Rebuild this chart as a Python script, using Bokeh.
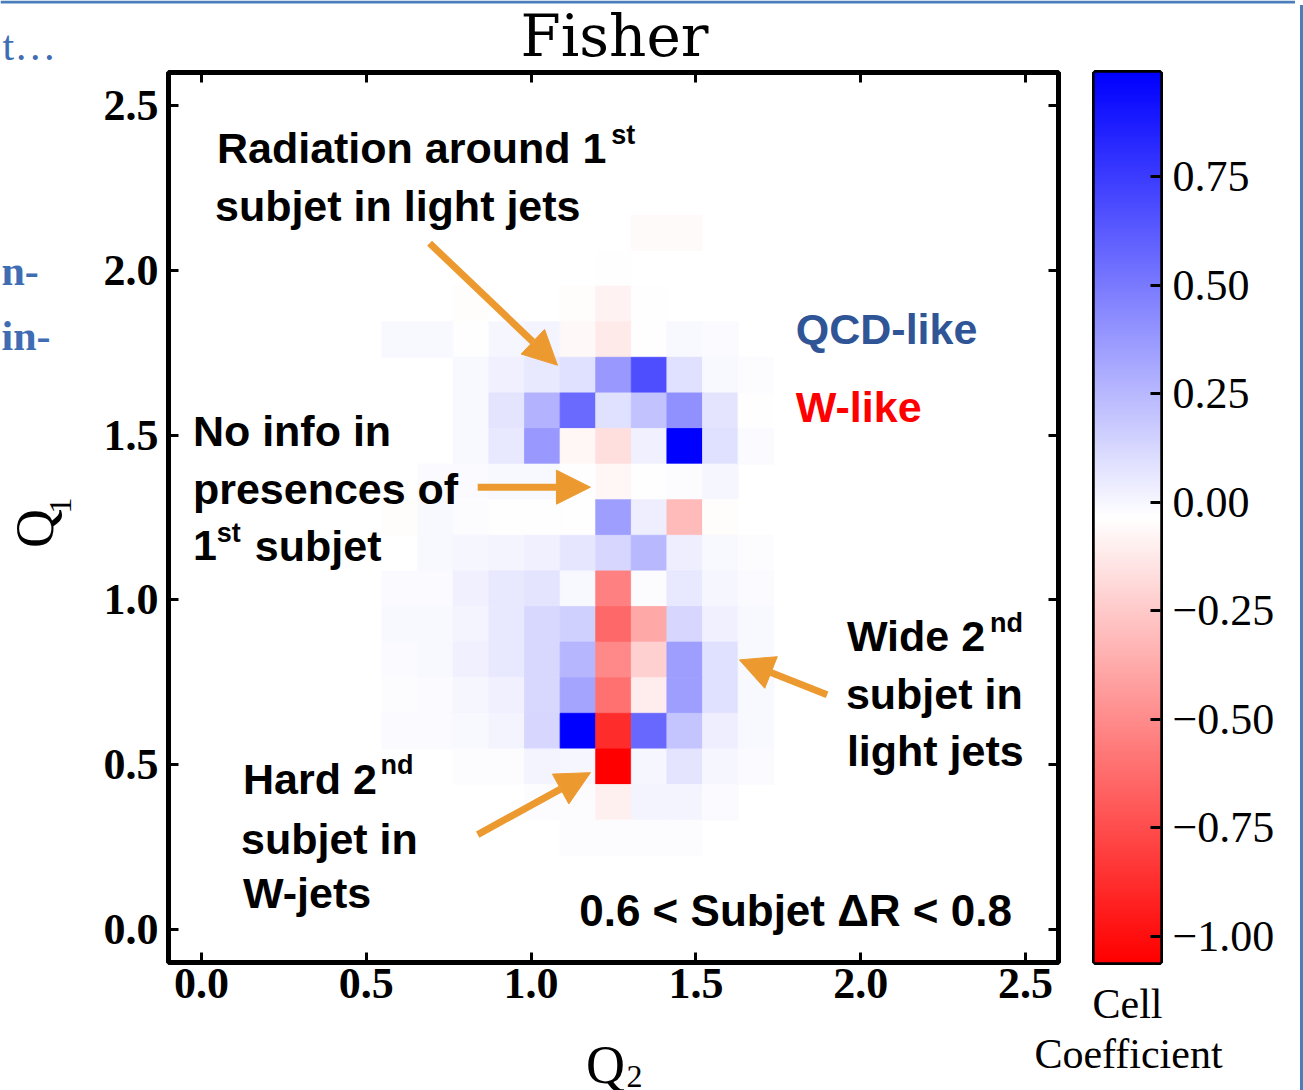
import numpy as np
from bokeh.plotting import figure
from bokeh.models import (Range1d, LinearAxis, FixedTicker, Label, Arrow, NormalHead, Div, Span,
                          LinearColorMapper, CustomJSTickFormatter, ColumnDataSource)
from bokeh.layouts import row, column
from bokeh.embed import file_html
from bokeh.resources import INLINE

# ---------------------------------------------------------------------------
# Binning of the two subjet-charge axes (25 x 25 cells on [-0.1, 2.6])
Q_MIN, Q_MAX, N_BINS = -0.1, 2.6, 25
BIN_W = (Q_MAX - Q_MIN) / N_BINS

# Range of the colour scale (Fisher cell coefficients)
COEF_LOW, COEF_HIGH = -1.06, 0.99

# Column (Q2) and row (Q1) bin indices of the populated region
q2_bins = [6, 7, 8, 9, 10, 11, 12, 13, 14, 15, 16]
q1_bins = [20, 19, 18, 17, 16, 15, 14, 13, 12, 11, 10, 9, 8, 7, 6, 5, 4, 3]

N = None
# Fisher coefficient per cell, one row per Q1 bin (top to bottom), columns follow q2_bins
coefficients = [
    [N,      N,      N,      N,      N,      N,      N,      -0.055, -0.055, N,      N],
    [N,      N,      N,      N,      N,      N,      -0.04,  N,      N,      N,      N],
    [N,      N,      -0.045, N,      N,      -0.05,  -0.09,  -0.035, N,      N,      N],
    [-0.007, -0.007, -0.035, 0.0,    0.01,   -0.06,  -0.12,  -0.035, -0.005, -0.015, N],
    [N,      N,      -0.01,  0.025,  0.06,   0.09,   0.375,  0.67,   0.09,   -0.01,  -0.02],
    [N,      N,      -0.005, 0.07,   0.27,   0.56,   0.09,   0.21,   0.41,   0.07,   -0.035],
    [N,      N,      -0.005, 0.06,   0.375,  -0.075, -0.17,  0.025,  0.99,   0.09,   -0.015],
    [N,      -0.015, -0.015, -0.01,  -0.01,  -0.035, -0.075, -0.035, -0.02,  0.005,  N],
    [-0.05,  -0.005, -0.02,  -0.035, -0.035, -0.035, 0.35,   0.03,   -0.31,  -0.045, N],
    [N,      -0.005, 0.005,  0.013,  0.025,  0.065,  0.13,   0.25,   0.03,   -0.005, -0.02],
    [-0.015, -0.015, 0.025,  0.06,   0.075,  -0.005, -0.545, -0.02,  0.06,   0.005,  -0.015],
    [-0.01,  -0.005, 0.013,  0.06,   0.12,   0.15,   -0.64,  -0.38,  0.13,   0.025,  -0.005],
    [-0.015, -0.005, 0.025,  0.06,   0.12,   0.26,   -0.51,  -0.22,  0.35,   0.09,   -0.005],
    [-0.02,  -0.015, 0.005,  0.025,  0.12,   0.33,   -0.61,  -0.115, 0.35,   0.09,   -0.005],
    [-0.015, -0.015, -0.005, 0.013,  0.13,   0.99,   -0.88,  0.57,   0.2,    0.03,   -0.005],
    [N,      N,      -0.02,  -0.02,  0.013,  0.005,  -1.06,  0.005,  0.07,   0.005,  -0.015],
    [N,      N,      N,      N,      -0.02,  -0.02,  -0.095, 0.013,  0.013,  -0.015, N],
    [N,      N,      N,      N,      N,      -0.02,  -0.02,  -0.02,  -0.02,  N,      N],
]

axis_ticks = [0.0, 0.5, 1.0, 1.5, 2.0, 2.5]
colorbar_ticks = [-1.0, -0.75, -0.5, -0.25, 0.0, 0.25, 0.5, 0.75]

# ---------------------------------------------------------------------------
ORANGE = "#EC9A2F"
SLIDE_BLUE = "#3F6DB3"
FRAME_BLUE = "#4A7EBB"
SERIF = "Liberation Serif"
SANS = "Liberation Sans"

PAGE_W, PAGE_H = 1303, 1090
EDGE_W = 8                  # slide frame strip at the right edge
INNER_W = PAGE_W - EDGE_W
TOP_H = 69                  # title strip
FRAME_TOP, FRAME_BOTTOM = 72, 962   # page rows of the plot frames
BOTTOM_Y = 1022             # page row where the bottom text strip starts
LEFT_W = 90                 # strip left of the heat map


def blue_white_red(n=256):
    """Diverging palette: red (low) -> white -> blue (high)."""
    cols = []
    for i in range(n):
        t = i / (n - 1)
        if t < 0.5:
            f = t / 0.5
            r, g, b = 1.0, f, f
        else:
            f = (t - 0.5) / 0.5
            r, g, b = 1.0 - f, 1.0 - f, 1.0
        cols.append("#%02x%02x%02x" % (round(r * 255), round(g * 255), round(b * 255)))
    return cols


mapper = LinearColorMapper(palette=blue_white_red(), low=COEF_LOW, high=COEF_HIGH)

xs, ys, vs = [], [], []
for r_i, q1 in enumerate(q1_bins):
    for c_i, q2 in enumerate(q2_bins):
        v = coefficients[r_i][c_i]
        if v is None:
            continue
        xs.append(Q_MIN + (q2 + 0.5) * BIN_W)
        ys.append(Q_MIN + (q1 + 0.5) * BIN_W)
        vs.append(v)
cells = ColumnDataSource(dict(x=xs, y=ys, v=vs))


def put(fig, x, y, text, size, color="black", font=SANS, style="bold",
        align="left", baseline="alphabetic", angle=0.0):
    fig.add_layout(Label(x=x, y=y, text=text, text_font=font, text_font_style=style,
                         text_font_size=size, text_color=color, text_align=align,
                         text_baseline=baseline, angle=angle))


def blank(**kw):
    """Figure without axes or outline, used for text around the plots."""
    f = figure(x_axis_location=None, y_axis_location=None,
               output_backend="svg", toolbar_location=None, **kw)
    f.grid.visible = False
    f.outline_line_color = None
    f.background_fill_color = "white"
    f.border_fill_color = "white"
    return f


BORDERS = dict(min_border_top=FRAME_TOP - TOP_H, min_border_bottom=BOTTOM_Y - FRAME_BOTTOM)

# ---------------------------------------------------------------------------
# Main heat map
p = figure(frame_width=890, frame_height=FRAME_BOTTOM - FRAME_TOP,
           x_range=Range1d(Q_MIN, Q_MAX), y_range=Range1d(Q_MIN, Q_MAX),
           min_border_left=78, min_border_right=3, **BORDERS,
           output_backend="svg", toolbar_location=None)
p.grid.visible = False
p.outline_line_color = "black"
p.outline_line_width = 5
p.background_fill_color = "white"
p.border_fill_color = "white"

p.rect(x="x", y="y", width=BIN_W, height=BIN_W, source=cells,
       fill_color={"field": "v", "transform": mapper},
       line_color={"field": "v", "transform": mapper}, line_width=0.8)

tick_fmt = CustomJSTickFormatter(code="return tick.toFixed(1);")


def style_axis(ax, show_labels):
    ax.ticker = FixedTicker(ticks=axis_ticks)
    ax.major_tick_in = 10
    ax.major_tick_out = 0
    ax.major_tick_line_width = 3
    ax.major_tick_line_color = "black"
    ax.minor_tick_line_color = None
    ax.axis_line_color = None
    ax.formatter = tick_fmt
    if show_labels:
        ax.major_label_text_font = SERIF
        ax.major_label_text_font_style = "bold"
        ax.major_label_text_font_size = "44px"
        ax.major_label_text_color = "black"
    else:
        ax.major_label_text_font_size = "0px"
        ax.major_label_text_color = None
        ax.major_label_standoff = 0


style_axis(p.xaxis[0], True)
style_axis(p.yaxis[0], True)
p.xaxis[0].major_label_standoff = 6
p.yaxis[0].major_label_standoff = 10
top_ax = LinearAxis()
right_ax = LinearAxis()
style_axis(top_ax, False)
style_axis(right_ax, False)
p.add_layout(top_ax, "above")
p.add_layout(right_ax, "right")

# Annotations inside the heat map
F, FS = "43px", "27px"
put(p, 0.047, 2.370, "Radiation around 1", F)
put(p, 1.243, 2.410, "st", FS)
put(p, 0.041, 2.194, "subjet in light jets", F)

put(p, -0.026, 1.513, "No info in", F)
put(p, -0.026, 1.337, "presences of", F)
put(p, -0.026, 1.164, "1", F)
put(p, 0.046, 1.204, "st", FS)
put(p, 0.162, 1.164, "subjet", F)

put(p, 0.126, 0.458, "Hard 2", F)
put(p, 0.543, 0.498, "nd", FS)
put(p, 0.120, 0.276, "subjet in", F)
put(p, 0.126, 0.110, "W-jets", F)

put(p, 1.958, 0.891, "Wide 2", F)
put(p, 2.392, 0.931, "nd", FS)
put(p, 1.955, 0.716, "subjet in", F)
put(p, 1.958, 0.543, "light jets", F)

put(p, 1.803, 1.822, "QCD-like", F, color="#2F5597")
put(p, 1.803, 1.585, "W-like", F, color="#FF0000")
put(p, 1.146, 0.058, "0.6 < Subjet \u0394R < 0.8", "44px")

for xs_, ys_, xe_, ye_ in [(0.692, 2.082, 1.080, 1.712),
                           (0.838, 1.342, 1.180, 1.342),
                           (0.838, 0.288, 1.180, 0.476),
                           (1.898, 0.712, 1.632, 0.818)]:
    p.add_layout(Arrow(end=NormalHead(size=34, fill_color=ORANGE, line_color=ORANGE, line_width=1),
                       x_start=xs_, y_start=ys_, x_end=xe_, y_end=ye_,
                       line_color=ORANGE, line_width=7))

# ---------------------------------------------------------------------------
# Colour bar
cb = figure(frame_width=66, frame_height=FRAME_BOTTOM - FRAME_TOP,
            x_range=Range1d(0, 1), y_range=Range1d(COEF_LOW, COEF_HIGH),
            min_border_left=33, min_border_right=135, **BORDERS,
            y_axis_location="right", output_backend="svg", toolbar_location=None)
cb.grid.visible = False
cb.outline_line_color = "black"
cb.outline_line_width = 5
cb.border_fill_color = "white"
gradient = np.linspace(COEF_LOW, COEF_HIGH, 512).reshape(-1, 1)
cb.image(image=[gradient], x=0, y=COEF_LOW, dw=1, dh=COEF_HIGH - COEF_LOW, color_mapper=mapper)

cax = cb.yaxis[0]
cax.ticker = FixedTicker(ticks=colorbar_ticks)
cax.formatter = CustomJSTickFormatter(
    code="return (tick < 0 ? '\\u2212' : '') + Math.abs(tick).toFixed(2);")
cax.major_tick_in = 10
cax.major_tick_out = 0
cax.major_tick_line_width = 3
cax.minor_tick_line_color = None
cax.axis_line_color = None
cax.major_label_text_font = SERIF
cax.major_label_text_font_size = "44px"
cax.major_label_text_color = "black"
cax.major_label_standoff = 12

bax = cb.xaxis[0]
bax.major_tick_line_color = None
bax.minor_tick_line_color = None
bax.axis_line_color = None
bax.major_label_text_font_size = "0px"
bax.major_label_text_color = None
bax.major_label_standoff = 0
bax.axis_label = "Cell"
bax.axis_label_text_color = "black"
bax.axis_label_text_font = SERIF
bax.axis_label_text_font_style = "normal"
bax.axis_label_text_font_size = "42px"
bax.axis_label_standoff = 12

# ---------------------------------------------------------------------------
# Text strips around the plots (page-pixel coordinates, y downwards)
top = blank(width=INNER_W, height=TOP_H, min_border=0,
            x_range=Range1d(0, INNER_W), y_range=Range1d(TOP_H, 0))
top.add_layout(Span(location=1.5, dimension="width", line_color=FRAME_BLUE, line_width=3))
put(top, 614, 35, "Fisher", "58px", font="DejaVu Serif", style="normal", align="center")
put(top, 2, 45, "t\u2026", "42px", color=SLIDE_BLUE, font=SERIF, style="normal")

left = blank(frame_width=LEFT_W, frame_height=FRAME_BOTTOM - FRAME_TOP,
             min_border_left=0, min_border_right=0, **BORDERS,
             x_range=Range1d(0, LEFT_W), y_range=Range1d(FRAME_BOTTOM, FRAME_TOP))
put(left, 1, 270, "n-", "42px", color=SLIDE_BLUE, font=SERIF, style="bold")
put(left, 1, 335, "in-", "42px", color=SLIDE_BLUE, font=SERIF, style="bold")
put(left, 34, 528, "Q", "54px", font=SERIF, style="normal", align="center", angle=np.pi / 2)
put(left, 60, 505, "1", "32px", font=SERIF, style="normal", align="center", angle=np.pi / 2)

bottom = blank(width=INNER_W, height=PAGE_H - BOTTOM_Y, min_border=0,
               x_range=Range1d(0, INNER_W), y_range=Range1d(PAGE_H, BOTTOM_Y))
put(bottom, 605, 1057, "Q", "54px", font=SERIF, style="normal", align="center")
put(bottom, 626, 1069, "2", "32px", font=SERIF, style="normal")
put(bottom, 1128, 1046, "Coefficient", "42px", font=SERIF, style="normal", align="center")

edge = Div(text="", width=EDGE_W, height=PAGE_H,
           styles={"box-sizing": "border-box", "border-left": "3px solid " + FRAME_BLUE})

layout = row(column(top, row(left, p, cb), bottom), edge)
open("out.html", "w").write(file_html(layout, INLINE))
